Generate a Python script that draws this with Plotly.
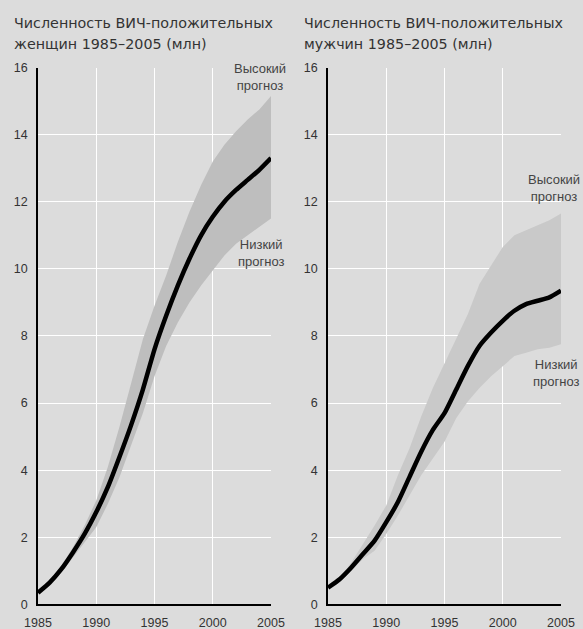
import plotly.graph_objects as go
from plotly.subplots import make_subplots

years = list(range(1985, 2006))

# женщины
women_mid = [0.35, 0.65, 1.05, 1.55, 2.1, 2.75, 3.5, 4.4, 5.35, 6.4, 7.6,
             8.6, 9.5, 10.3, 11.0, 11.55, 12.0, 12.35, 12.65, 12.95, 13.3]
women_high = [0.35, 0.7, 1.15, 1.7, 2.35, 3.1, 4.1, 5.3, 6.6, 7.9, 8.9,
              9.8, 10.8, 11.7, 12.5, 13.2, 13.7, 14.1, 14.45, 14.75, 15.15]
women_low = [0.35, 0.6, 0.95, 1.4, 1.85, 2.3, 3.0, 3.8, 4.75, 5.7, 6.8,
             7.7, 8.4, 9.0, 9.5, 9.95, 10.4, 10.75, 11.0, 11.25, 11.5]

# мужчины
men_mid = [0.5, 0.75, 1.1, 1.5, 1.9, 2.45, 3.05, 3.8, 4.55, 5.2, 5.7,
           6.4, 7.1, 7.7, 8.1, 8.45, 8.75, 8.95, 9.05, 9.15, 9.35]
men_high = [0.5, 0.8, 1.25, 1.8, 2.35, 2.95, 3.85, 4.65, 5.6, 6.45, 7.2,
            7.9, 8.65, 9.55, 10.1, 10.65, 11.0, 11.15, 11.3, 11.45, 11.65]
men_low = [0.5, 0.7, 1.0, 1.35, 1.6, 2.1, 2.65, 3.25, 3.85, 4.35, 4.85,
           5.55, 6.05, 6.45, 6.8, 7.1, 7.4, 7.5, 7.6, 7.65, 7.75]

titles = ["Численность ВИЧ-положительных", "женщин 1985–2005 (млн)",
          "Численность ВИЧ-положительных", "мужчин 1985–2005 (млн)"]
x_ticks = [1985, 1990, 1995, 2000, 2005]

W, H = 583, 629
BG = "#dcdcdc"
NARROW = "Liberation Sans, Arial, sans-serif"
TITLE_FONT = "DejaVu Sans, sans-serif"

fig = make_subplots(rows=1, cols=2)

panels = [
    (1, women_low, women_high, women_mid, "rgb(190,190,190)"),
    (2, men_low, men_high, men_mid, "rgb(201,201,201)"),
]
for col, low, high, mid, band in panels:
    fig.add_trace(go.Scatter(x=years, y=low, mode="lines", line=dict(width=0, color=band),
                             showlegend=False, hoverinfo="skip"), row=1, col=col)
    fig.add_trace(go.Scatter(x=years, y=high, mode="lines", line=dict(width=0, color=band),
                             fill="tonexty", fillcolor=band, showlegend=False,
                             hoverinfo="skip"), row=1, col=col)
    fig.add_trace(go.Scatter(x=years, y=mid, mode="lines",
                             line=dict(color="black", width=4.5, shape="spline", smoothing=0.6),
                             showlegend=False), row=1, col=col)

axis_common = dict(showgrid=True, gridcolor="white", gridwidth=1.2,
                   showline=True, linecolor="black", linewidth=1.5,
                   ticks="", zeroline=False, automargin=False,
                   tickfont=dict(family=NARROW, size=12.5, color="#333"))
fig.update_xaxes(range=[1985, 2005], tickvals=x_ticks, ticklabelstandoff=6, **axis_common)
fig.update_yaxes(range=[0, 16], dtick=2, ticklabelstandoff=6, **axis_common)

fig.update_layout(
    width=W, height=H,
    margin=dict(l=0, r=0, t=0, b=0),
    paper_bgcolor=BG, plot_bgcolor=BG,
    xaxis=dict(domain=[38 / W, 271 / W]),
    xaxis2=dict(domain=[328 / W, 561 / W]),
    yaxis=dict(domain=[24.6 / H, 561.5 / H]),
    yaxis2=dict(domain=[24.6 / H, 561.5 / H]),
)

# заголовки
for i, (tx, px_x) in enumerate([(titles[0], 12), (titles[1], 12), (titles[2], 302), (titles[3], 302)]):
    y_px = 23 if i % 2 == 0 else 44
    fig.add_annotation(text=tx, xref="paper", yref="paper", x=px_x / W, y=1 - y_px / H,
                       xanchor="left", yanchor="middle", showarrow=False,
                       font=dict(family=TITLE_FONT, size=14.3, color="#333"))

# подписи прогнозов
labels = [
    ("Высокий<br>прогноз", 288, 77, "right"),
    ("Низкий<br>прогноз", 287, 253, "right"),
    ("Высокий<br>прогноз", 582, 188, "right"),
    ("Низкий<br>прогноз", 582, 373, "right"),
]
for tx, px_x, px_y, anchor in labels:
    fig.add_annotation(text=tx, xref="paper", yref="paper", x=px_x / W, y=1 - px_y / H,
                       xanchor=anchor, yanchor="middle", align="center", showarrow=False,
                       font=dict(family=NARROW, size=13, color="#444"))

# убрать отступ body, чтобы фигура стояла в углу окна
fig.write_html("out.html", config={"displayModeBar": False},
               post_script="document.body.style.margin='0';")
